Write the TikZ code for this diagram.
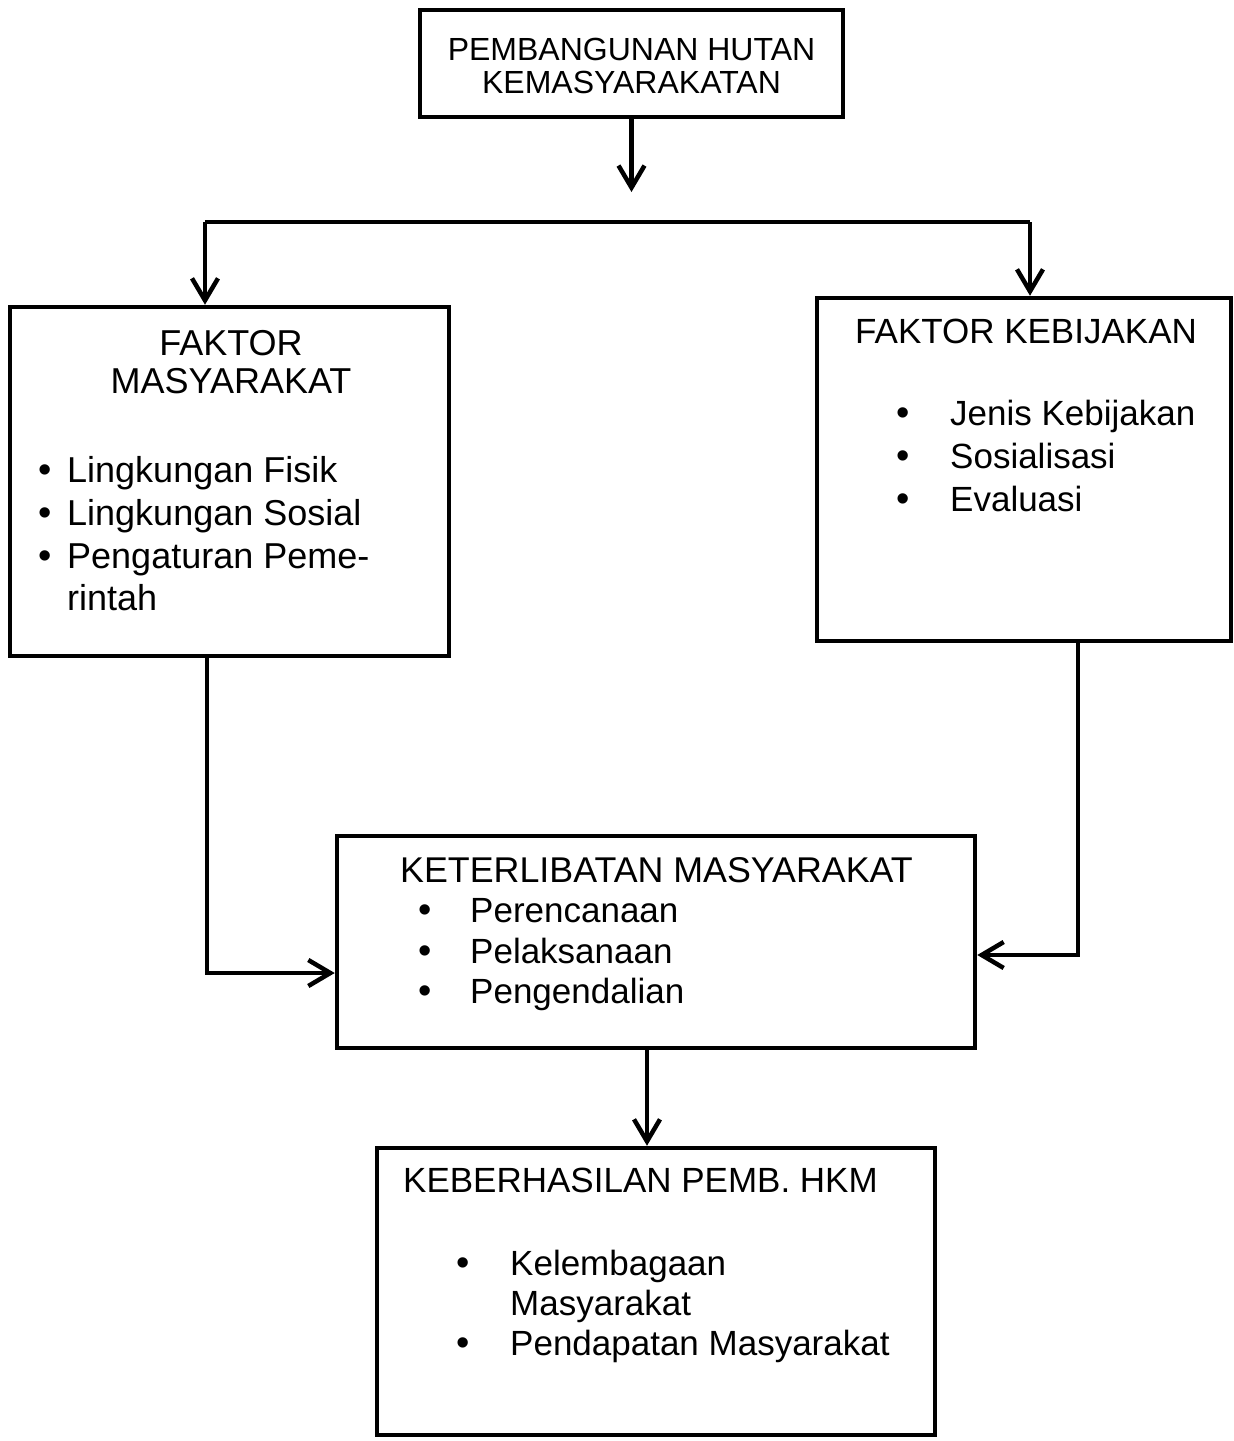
\documentclass[tikz,border=0pt]{standalone}
\usepackage{fontspec}
\setmainfont{Liberation Sans}
\usetikzlibrary{arrows.meta}
\begin{document}
\begin{tikzpicture}[x=1pt,y=-1pt,
  box/.style={draw, line width=4.5pt, inner sep=0pt, fill=none},
  conn/.style={line width=4.5pt},
  arr/.style={line width=4.5pt, -{Straight Barb[length=22pt,width=26pt]}},
  hd/.style={inner sep=0pt, font=\fontsize{35}{42}\selectfont},
  tl/.style={anchor=base west, inner sep=0pt, font=\fontsize{35}{42}\selectfont},
  bl/.style={anchor=base, inner sep=0pt, font=\fontsize{38}{42}\selectfont}
]
\fill[white] (0,0) rectangle (1234,1441);
\useasboundingbox (0,0) rectangle (1234,1441);

% boxes
\node[box, minimum width=423pt, minimum height=107pt] (top) at (631.5,63.5) {};
\node[box, minimum width=439pt, minimum height=349pt] (fm) at (229.5,481.5) {};
\node[box, minimum width=414pt, minimum height=343pt] (fk) at (1024,469.5) {};
\node[box, minimum width=638pt, minimum height=212pt] (km) at (656,942) {};
\node[box, minimum width=558pt, minimum height=287pt] (kb) at (656,1291.5) {};

% top box text
\node[hd, anchor=base, font=\fontsize{32}{38}\selectfont] (t1) at (631.5,60) {PEMBANGUNAN HUTAN};
\node[hd, anchor=base, font=\fontsize{32}{38}\selectfont] (t2) at (631.5,93) {KEMASYARAKATAN};

% faktor masyarakat
\node[hd, anchor=base, font=\fontsize{36}{42}\selectfont] (fm1) at (231,355) {FAKTOR};
\node[hd, anchor=base, font=\fontsize{36}{42}\selectfont] (fm2) at (231,393) {MASYARAKAT};
\node[bl] (fmb1) at (45,482) {•};
\node[bl] (fmb2) at (45,525) {•};
\node[bl] (fmb3) at (45,568) {•};
\node[tl, font=\fontsize{36}{42}\selectfont] (fmt1) at (67,482) {Lingkungan Fisik};
\node[tl, font=\fontsize{36}{42}\selectfont] (fmt2) at (67,525) {Lingkungan Sosial};
\node[tl, font=\fontsize{36}{42}\selectfont] (fmt3) at (67,568) {Pengaturan Peme-};
\node[tl, font=\fontsize{36}{42}\selectfont] (fmt4) at (67,610) {rintah};

% faktor kebijakan
\node[tl] (fk1) at (855,343) {FAKTOR KEBIJAKAN};
\node[bl] (fkb1) at (903,425) {•};
\node[bl] (fkb2) at (903,468) {•};
\node[bl] (fkb3) at (903,511) {•};
\node[tl] (fkt1) at (950,425) {Jenis Kebijakan};
\node[tl] (fkt2) at (950,468) {Sosialisasi};
\node[tl] (fkt3) at (950,511) {Evaluasi};

% keterlibatan masyarakat
\node[tl, font=\fontsize{35.8}{42}\selectfont] (km1) at (400,882) {KETERLIBATAN MASYARAKAT};
\node[bl] (kmb1) at (425,922) {•};
\node[bl] (kmb2) at (425,963) {•};
\node[bl] (kmb3) at (425,1003) {•};
\node[tl] (kmt1) at (470,922) {Perencanaan};
\node[tl] (kmt2) at (470,963) {Pelaksanaan};
\node[tl] (kmt3) at (470,1003) {Pengendalian};

% keberhasilan
\node[tl] (kb1) at (403,1192) {KEBERHASILAN PEMB. HKM};
\node[bl] (kbb1) at (463,1275) {•};
\node[bl] (kbb2) at (463,1355) {•};
\node[tl] (kbt1) at (510,1275) {Kelembagaan};
\node[tl] (kbt2) at (510,1315) {Masyarakat};
\node[tl] (kbt3) at (510,1355) {Pendapatan Masyarakat};

% connectors
\coordinate (tA) at (631.5,192);
\draw[arr] (top.south) -- (tA);
\coordinate (hl) at (205,222);
\coordinate (hr) at (1030,222);
\draw[conn] (hl) -- (hr);
\draw[arr] (hl) -- (hl |- fm.north);
\draw[arr] (hr) -- (hr |- fk.north);
\coordinate (lc) at (207,973);
\draw[arr] (lc |- fm.south) -- (lc) -- (lc -| km.west);
\coordinate (rc) at (1078,955);
\draw[arr] (rc |- fk.south) -- (rc) -- (rc -| km.east);
\coordinate (mc) at (647,1100);
\draw[arr] (mc |- km.south) -- (mc |- kb.north);
\end{tikzpicture}
\end{document}
